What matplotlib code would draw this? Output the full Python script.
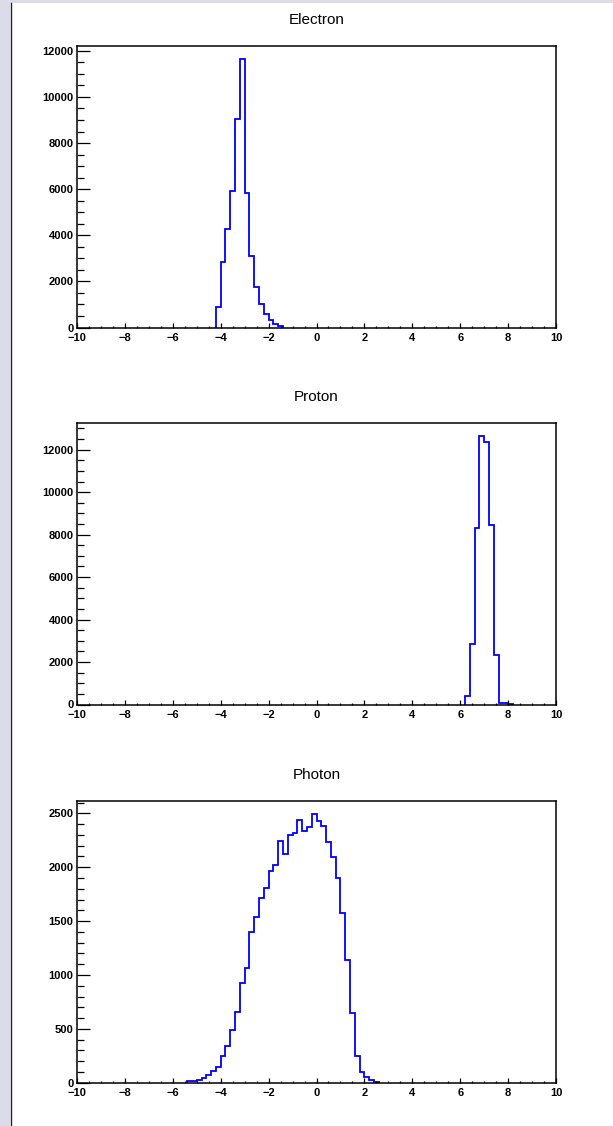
import numpy as np
import matplotlib.pyplot as plt
from matplotlib.ticker import MultipleLocator
from matplotlib.patches import Rectangle
from matplotlib.lines import Line2D

# 100 bins from -10 to 10 (width 0.2); only the filled stretch of each histogram is listed
bin_edges = np.linspace(-10, 10, 101)

electron_start = -4.2
electron_counts = [900, 2830, 4290, 5900, 9050, 11650, 5820, 3080, 1760,
                   1040, 575, 340, 160, 75]

proton_start = 6.2
proton_counts = [400, 2860, 8290, 12650, 12380, 8460, 2310, 94, 94, 15]

photon_start = -5.4
photon_counts = [15, 15, 28, 47, 75, 105, 146, 245, 344, 490, 660, 927,
                 1066, 1395, 1538, 1712, 1811, 1965, 2018, 2247, 2123,
                 2302, 2314, 2438, 2339, 2370, 2493, 2425, 2385, 2237,
                 2092, 1901, 1574, 1136, 648, 247, 102, 49, 25, 8]

titles = ["Electron", "Proton", "Photon"]
series = [(electron_start, electron_counts),
          (proton_start, proton_counts),
          (photon_start, photon_counts)]
y_major = [2000, 2000, 500]
y_minor = [500, 500, 100]

W, H = 613, 1126
fig = plt.figure(figsize=(W / 100, H / 100), dpi=100)
fig.patch.set_facecolor("white")
plt.rcParams["font.family"] = ["Liberation Sans", "DejaVu Sans"]

# window chrome: light strip at the left and top, dark border line
fig.add_artist(Rectangle((0, 0), 10 / W, 1, transform=fig.transFigure,
                         facecolor="#dcdce8", edgecolor="none"))
fig.add_artist(Rectangle((0, 1 - 3 / H), 1, 3 / H, transform=fig.transFigure,
                         facecolor="#dcdce8", edgecolor="none"))
fig.add_artist(Line2D([10.5 / W, 10.5 / W], [0, 1 - 3 / H],
                      transform=fig.transFigure, color="#222222", lw=1.0))

ax_left = 77 / W
ax_width = (556 - 77) / W
ax_height = 282 / H
ax_bottoms = [1 - 327.5 / H, 1 - 704.5 / H, 1 - 1082.7 / H]

# one histogram per panel
for title, (start, counts), bottom, ymaj, ymin in zip(
        titles, series, ax_bottoms, y_major, y_minor):
    ax = fig.add_axes([ax_left, bottom, ax_width, ax_height])
    counts = np.array(counts, dtype=float)
    i0 = int(round((start + 10) / 0.2))
    edges = bin_edges[i0:i0 + len(counts) + 1]
    ax.stairs(counts, edges, baseline=0, color="#0000ff", lw=1.3)

    ax.set_xlim(-10, 10)
    ax.set_ylim(0, counts.max() * 1.05)
    ax.xaxis.set_major_locator(MultipleLocator(2))
    ax.xaxis.set_minor_locator(MultipleLocator(0.5))
    ax.yaxis.set_major_locator(MultipleLocator(ymaj))
    ax.yaxis.set_minor_locator(MultipleLocator(ymin))

    ax.tick_params(axis="x", which="major", direction="in", length=3.5,
                   width=0.9, pad=4, labelsize=8)
    ax.tick_params(axis="x", which="minor", direction="in", length=1.8,
                   width=0.9)
    ax.tick_params(axis="y", which="major", direction="in", length=9.5,
                   width=0.9, pad=2.5, labelsize=8)
    ax.tick_params(axis="y", which="minor", direction="in", length=5,
                   width=0.9)
    for lab in ax.get_xticklabels() + ax.get_yticklabels():
        lab.set_fontweight("bold")
    for sp in ax.spines.values():
        sp.set_linewidth(1.1)

    ax.text(0.5, 1 + 26 / 282, title, transform=ax.transAxes,
            ha="center", va="center", fontsize=11)

fig.savefig("out.png", dpi=100)
